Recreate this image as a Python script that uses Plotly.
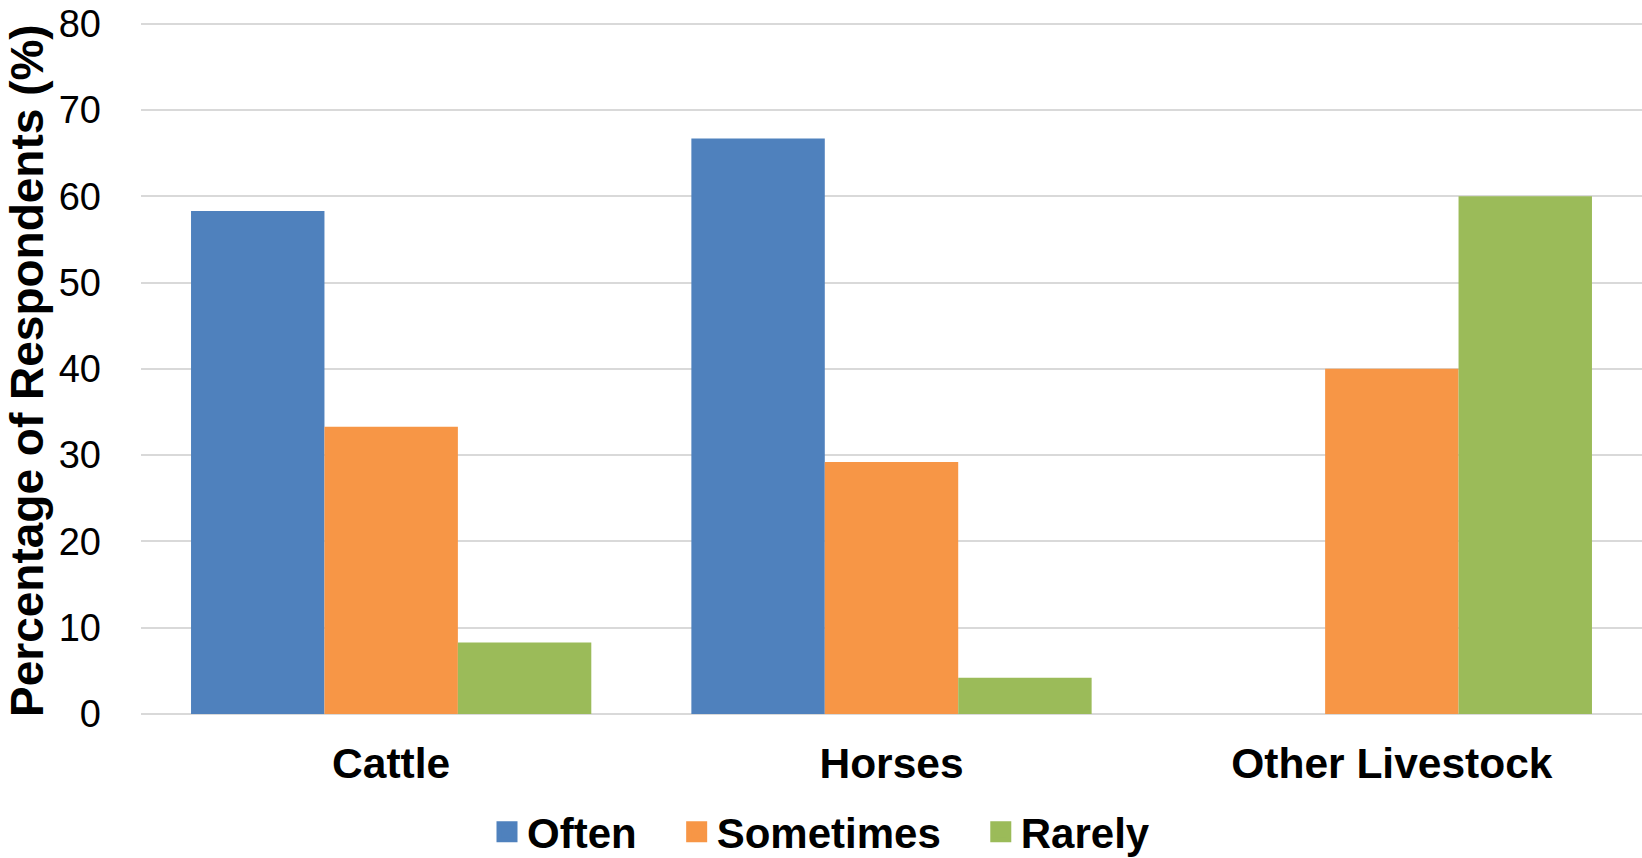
import plotly.graph_objects as go

categories = ["Cattle", "Horses", "Other Livestock"]
often = [58.3, 66.7, 0]
sometimes = [33.3, 29.2, 40.0]
rarely = [8.3, 4.2, 60.0]
series_names = ["Often", "Sometimes", "Rarely"]
colors = ["#4f81bd", "#f79646", "#9bbb59"]
y_ticks = [0, 10, 20, 30, 40, 50, 60, 70, 80]

fig = go.Figure()
for name, vals, col in zip(series_names, [often, sometimes, rarely], colors):
    fig.add_trace(go.Bar(x=categories, y=vals, name=name, showlegend=False,
                         marker=dict(color=col, line=dict(width=0))))
# legend entries with square swatches
pad = "\u00a0\u00a0\u00a0"
for i, (name, col) in enumerate(zip(series_names, colors)):
    label = name + (pad if i < len(series_names) - 1 else "")
    fig.add_trace(go.Scatter(x=[None], y=[None], mode="markers", name=label,
                             marker=dict(symbol="square", size=16, color=col,
                                         line=dict(color=col, width=5)),
                             showlegend=True))

font_family = "Liberation Sans, Arial, sans-serif"
fig.update_layout(
    width=1642, height=858,
    barmode="group", bargap=0.2, bargroupgap=0,
    plot_bgcolor="white", paper_bgcolor="white",
    margin=dict(l=141, r=0, t=22, b=144),
    font=dict(family=font_family, color="black"),
    showlegend=True,
    legend=dict(orientation="h", xref="container", yref="container",
                x=0.5, xanchor="center", y=0.0303, yanchor="middle",
                font=dict(size=42, family=font_family, weight="bold"),
                itemsizing="trace", bgcolor="rgba(0,0,0,0)"),
)
fig.update_yaxes(range=[0, 80.2], tickvals=y_ticks, ticktext=[str(v) for v in y_ticks],
                 showgrid=True, gridcolor="#d9d9d9", gridwidth=2,
                 zeroline=True, zerolinecolor="#d9d9d9", zerolinewidth=2,
                 showline=False, tickfont=dict(size=38, family=font_family),
                 ticklabelstandoff=39, automargin=False, ticklabeloverflow="allow")
fig.update_xaxes(showgrid=False, showline=False, automargin=False,
                 tickfont=dict(size=42.5, family=font_family, weight="bold"),
                 ticklabelstandoff=20)
fig.add_annotation(text="Percentage of Respondents (%)", textangle=-90,
                   xref="paper", yref="paper", x=-0.076, y=0.497,
                   xanchor="center", yanchor="middle", showarrow=False,
                   font=dict(size=46, family=font_family, weight="bold", color="black"))

fig.write_html("out.html", config={"displayModeBar": False},
               post_script="document.body.style.margin='0';document.body.style.overflow='hidden';")
